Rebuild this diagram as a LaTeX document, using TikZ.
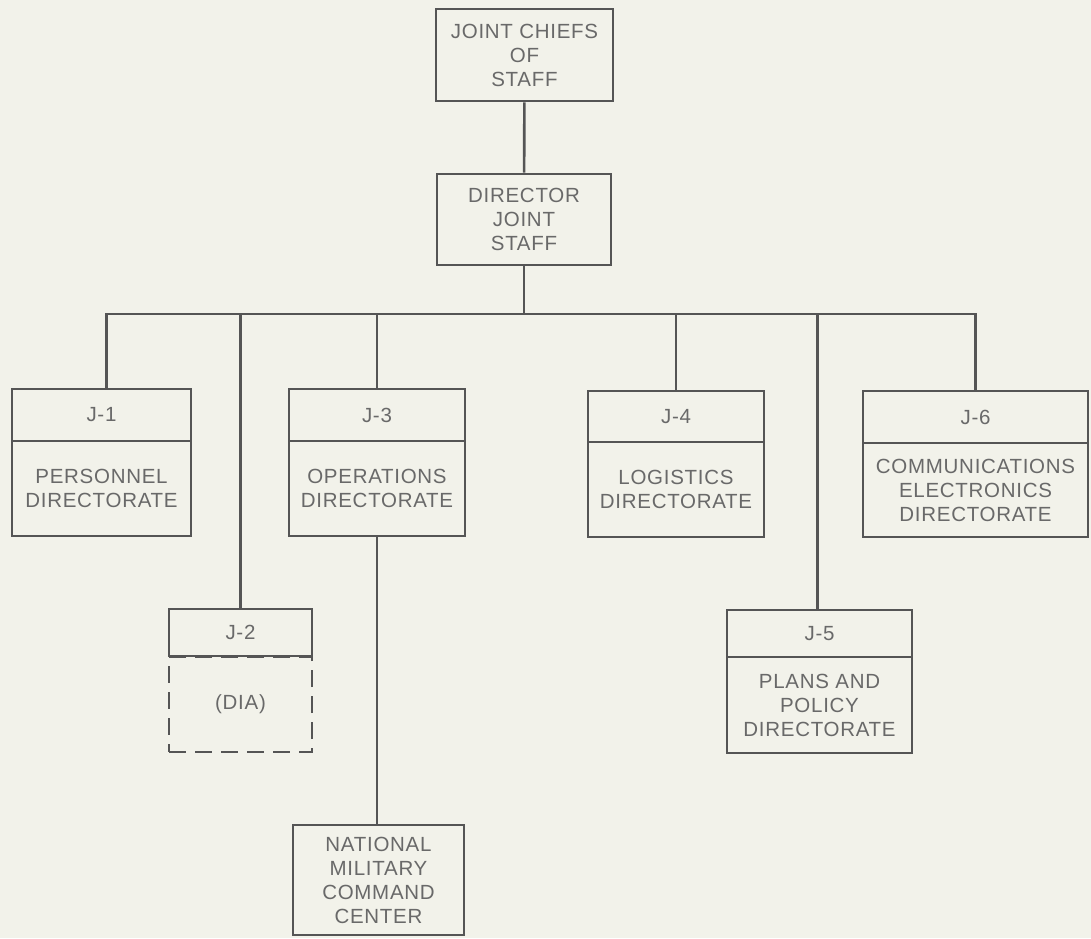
\documentclass[tikz,border=0pt]{standalone}
\usepackage{fontspec}
\newfontfamily\chartfont[LetterSpace=3.5]{Liberation Sans}
\usepackage{tikz}
\usetikzlibrary{positioning}
\usetikzlibrary{calc, shapes, backgrounds}
\definecolor{paper}{HTML}{F2F2EA}
\definecolor{ink}{HTML}{555555}
\definecolor{print}{HTML}{696969}
\tikzstyle{line} = [ink, line width=2.6pt]

\begin{document}
\begin{tikzpicture}[
    x = 1pt, y = -1pt,  % pixel grid, y downwards
    every node/.style = {draw = ink, line width = 2.6pt, rectangle, inner sep = 0pt, align = center,
                         text = print, font = \chartfont\fontsize{20.5}{24}\selectfont},
    head/.style = {minimum height = 52pt},
    body/.style = {minimum height = 95pt}
  ]
  \path[use as bounding box, fill = paper] (0,0) rectangle (1091,938);

  % top of the chart
  \node[minimum width = 177pt, minimum height = 92pt] (jcs) at (524.5,55) {JOINT CHIEFS\\OF\\STAFF};
  \node[minimum width = 174pt, minimum height = 91pt] (dir) at (524,219.5) {DIRECTOR\\JOINT\\STAFF};

  % directorates
  \node[body, minimum width = 179pt] (j1b) at (101.5,488.5) {PERSONNEL\\DIRECTORATE};
  \node[head, minimum width = 179pt] (j1h) at (101.5,415) {J-1};
  \node[body, minimum width = 143pt, dash pattern = on 17pt off 9pt] (j2b) at (240.5,704.5) {(DIA)};
  \node[head, minimum width = 143pt, minimum height = 47pt] (j2h) at (240.5,632.5) {J-2};
  \node[body, minimum width = 176pt] (j3b) at (377,488.5) {OPERATIONS\\DIRECTORATE};
  \node[head, minimum width = 176pt] (j3h) at (377,415) {J-3};
  \node[body, minimum width = 176pt] (j4b) at (676,489.5) {LOGISTICS\\DIRECTORATE};
  \node[head, minimum width = 176pt, minimum height = 51pt] (j4h) at (676,416.5) {J-4};
  \node[body, minimum width = 185pt, minimum height = 96pt] (j5b) at (819.5,705) {PLANS AND\\POLICY\\DIRECTORATE};
  \node[head, minimum width = 185pt, minimum height = 47pt] (j5h) at (819.5,633.5) {J-5};
  \node[body, minimum width = 225pt, minimum height = 94pt] (j6b) at (975.5,490) {COMMUNICATIONS\\ELECTRONICS\\DIRECTORATE};
  \node[head, minimum width = 225pt] (j6h) at (975.5,417) {J-6};
  \node[minimum width = 171pt, minimum height = 110pt] (nmcc) at (378.5,880) {NATIONAL\\MILITARY\\COMMAND\\CENTER};

  % connectors
  \coordinate (bus) at (0,314);
  \draw[line] (jcs) -- (dir);
  \draw[line] (dir.south) -- (dir.south |- bus);
  \draw[line] ([xshift=5pt]j1h.north) -- ([xshift=5pt]j1h.north |- bus) -- (j6h.north |- bus) -- (j6h.north);
  \foreach \n in {j2h, j3h, j4h}
    \draw[line] (\n.north) -- (\n.north |- bus);
  \draw[line] ([xshift=-2pt]j5h.north) -- ([xshift=-2pt]j5h.north |- bus);
  \draw[line] (j3b.south) -- (j3b.south |- nmcc.north);
\end{tikzpicture}
\end{document}
